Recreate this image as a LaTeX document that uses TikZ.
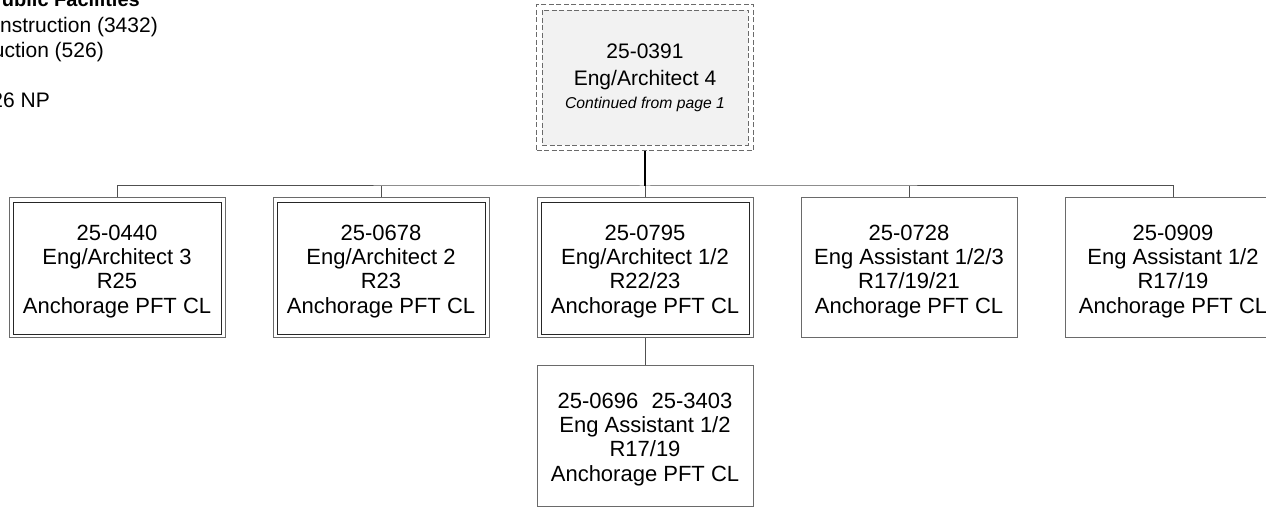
\documentclass[tikz,border=0pt]{standalone}
\usepackage{fontspec}
\setmainfont{Liberation Sans}
\usetikzlibrary{fit}
\definecolor{boxline}{HTML}{6A6A6A}
\definecolor{busline}{HTML}{505050}
\definecolor{rootfill}{HTML}{F2F2F2}
\newcommand\mytopstrut{\rule{0pt}{22pt}}
\tikzset{
  pxgrid/.style={x=1pt,y=-1pt},
  childbox/.style={draw=boxline, line width=1pt, fill=white, minimum width=216pt, minimum height=140pt,
    align=center, inner sep=0pt, font=\fontsize{22}{24.3}\selectfont},
  innerline/.style={draw=black!85, line width=0.9pt},
  rootbox/.style={draw=boxline, dashed, dash pattern=on 5pt off 2.5pt, line width=0.9pt, fill=rootfill,
    minimum width=206pt, minimum height=135pt, align=center, inner sep=0pt, font=\fontsize{21}{25}\selectfont},
  rootframe/.style={draw=boxline, dashed, dash pattern=on 5pt off 2.5pt, line width=0.9pt, inner sep=5pt},
  buswire/.style={draw=busline, line width=1pt},
  rootwire/.style={draw=black, line width=1.6pt},
  legend/.style={anchor=base east, inner sep=0pt, font=\fontsize{21}{25}\selectfont},
}
\begin{document}
\begin{tikzpicture}[pxgrid]
\useasboundingbox (0,0) rectangle (1266,510);
% legend fragments (cut at the left edge)
\node[legend, font=\fontsize{20}{25}\selectfont\bfseries] (t1) at (140,7) {ublic Facilities};
\node[legend] (t2) at (158,33) {nstruction (3432)};
\node[legend] (t3) at (104,58) {uction (526)};
\node[legend] (t4) at (50,108) {26 NP};
% root
\node[rootbox] (root) at (645,77.5) {25-0391\\[2pt]Eng/Architect 4\\[-2pt]{\fontsize{15.7}{18}\selectfont\itshape Continued from page 1}};
\node[rootframe, fit=(root)] (rootout) {};
% children
\node[childbox] (c1) at (117,268) {\mytopstrut 25-0440\\Eng/Architect 3\\R25\\Anchorage PFT CL};
\node[childbox] (c2) at (381,268) {\mytopstrut 25-0678\\Eng/Architect 2\\R23\\Anchorage PFT CL};
\node[childbox] (c3) at (645,268) {\mytopstrut 25-0795\\Eng/Architect 1/2\\R22/23\\Anchorage PFT CL};
\node[childbox] (c4) at (909,268) {\mytopstrut 25-0728\\Eng Assistant 1/2/3\\R17/19/21\\Anchorage PFT CL};
\node[childbox] (c5) at (1173,268) {\mytopstrut 25-0909\\Eng Assistant 1/2\\R17/19\\Anchorage PFT CL};
\node[childbox] (c6) at (645,436) {\mytopstrut 25-0696\hspace{0.6em}25-3403\\Eng Assistant 1/2\\R17/19\\Anchorage PFT CL};
% inner lines of double boxes
\foreach \n in {c1,c2,c3}{
  \draw[innerline] ([xshift=4.5pt,yshift=-4.5pt]\n.north west) rectangle ([xshift=-4.5pt,yshift=4.5pt]\n.south east);
}
% connectors
\coordinate (bus) at (645,186);
\draw[buswire] (c1.north) |- (bus) -| (c5.north);
\draw[buswire] (c2.north) -- (c2.north |- bus);
\draw[buswire] (c3.north) -- (bus);
\draw[buswire] (c4.north) -- (c4.north |- bus);
\draw[rootwire] (rootout.south) -- (bus);
\draw[buswire] (c3.south) -- (c6.north);
\end{tikzpicture}
\end{document}
